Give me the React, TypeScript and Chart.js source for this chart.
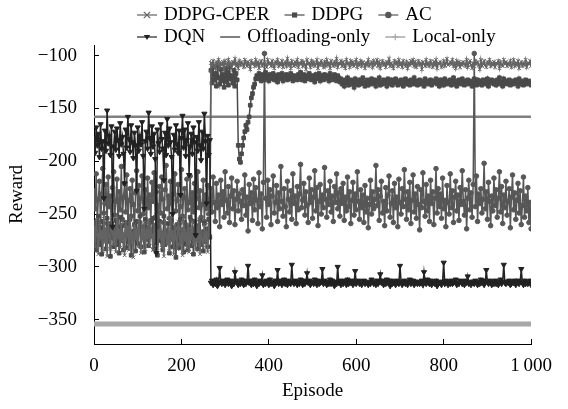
import React, { useEffect, useRef } from 'react';
import { Chart, registerables } from 'chart.js';

Chart.register(...registerables);

// ---------- data ----------
const EPISODE_STEP = 2.5; // one sample every 2.5 episodes, episodes 0..1000
const X_TICKS = [0, 200, 400, 600, 800, 1000];
const X_TICK_LABELS = ['0', '200', '400', '600', '800', '1\u2009000'];
const Y_TICKS = [-350, -300, -250, -200, -150, -100];

const DDPG_CPER = [
  -262, -281, -255, -270, -288, -259, -274, -266, -285, -252,
  -277, -263, -290, -258, -271, -283, -256, -268, -279, -261,
  -286, -254, -273, -265, -282, -259, -276, -268, -289, -257,
  -270, -262, -284, -253, -278, -267, -291, -260, -274, -264,
  -281, -256, -269, -287, -261, -275, -258, -283, -266, -272,
  -255, -280, -263, -270, -284, -259, -276, -251, -287, -265,
  -273, -258, -282, -267, -290, -256, -271, -279, -262, -285,
  -254, -276, -266, -288, -260, -272, -283, -257, -269, -280,
  -264, -289, -253, -275, -268, -282, -259, -286, -263, -274,
  -257, -279, -270, -284, -261, -277, -255, -288, -266, -273,
  -282, -260, -275, -268, -286, -258, -271,
  -107, -110, -105, -109, -112, -106, -108, -104, -111, -107,
  -109, -106, -113, -105, -108, -110, -104, -109, -107, -111,
  -106, -108, -103, -110, -107, -112, -105, -109, -106, -108,
  -111, -104, -107, -110, -106, -109, -113, -105, -108, -107,
  -110, -104, -109, -106, -112, -107, -105, -110, -108, -106,
  -109, -111, -104, -108, -107, -110, -105, -109, -112, -106,
  -108, -104, -110, -107, -109, -105, -111, -108, -106, -110,
  -103, -109, -107, -112, -105, -108, -110, -106, -109, -104,
  -111, -107, -108, -105, -110, -106, -109, -113, -104, -108,
  -107, -111, -105, -109, -106, -110, -108, -104, -112, -107,
  -109, -105, -108, -111, -106, -110, -104, -109, -107, -112,
  -105, -108, -110, -106, -109, -103, -111, -107, -108, -105,
  -110, -106, -109, -112, -104, -108, -107, -111, -105, -109,
  -106, -110, -108, -104, -111, -107, -109, -105, -110, -106,
  -108, -112, -107, -109, -104, -110, -108, -106, -111, -105,
  -109, -107, -104, -110, -106, -112, -108, -105, -109, -107,
  -111, -106, -108, -103, -110, -107, -109, -112, -105, -108,
  -106, -110, -104, -109, -107, -111, -105, -108, -110, -106,
  -112, -107, -109, -105, -108, -104, -110, -106, -111, -108,
  -105, -109, -107, -113, -106, -108, -110, -104, -109, -107,
  -110, -105, -108, -111, -106, -109, -104, -112, -107, -108,
  -106, -111, -109, -105, -110, -107, -103, -109, -108, -106,
  -108, -104, -110, -107, -112, -105, -109, -106, -111, -107,
  -109, -106, -108, -110, -104, -111, -107, -105, -109, -112,
  -107, -110, -105, -108, -106, -109, -113, -104, -110, -108,
  -105, -109, -111, -106, -108, -104, -110, -107, -109, -106,
  -111, -107, -108, -105, -112, -106, -109, -110, -104, -108,
  -106, -110, -107, -109, -105, -111, -108, -104, -110, -107,
  -109, -105, -112, -108, -106, -110, -107, -109, -104, -111,
  -107, -108, -105, -110,
];

const DDPG = [
  -271, -258, -284, -266, -252, -279, -263, -288, -257, -274,
  -268, -283, -254, -276, -262, -290, -259, -272, -281, -265,
  -256, -279, -268, -287, -253, -275, -261, -284, -270, -258,
  -282, -264, -276, -255, -289, -267, -273, -260, -285, -257,
  -278, -266, -252, -281, -269, -262, -286, -255, -274, -263,
  -280, -258, -271, -267, -254, -283, -261, -277, -289, -264,
  -257, -275, -268, -284, -252, -279, -266, -272, -259, -287,
  -270, -256, -281, -263, -276, -291, -260, -268, -282, -255,
  -273, -265, -286, -258, -278, -262, -284, -269, -253, -280,
  -266, -288, -257, -274, -261, -283, -270, -256, -279, -267,
  -285, -259, -276, -264, -281, -255, -272,
  -114, -126, -111, -123, -117, -129, -110, -121, -127, -113,
  -124, -118, -130, -112, -125, -116, -128, -111, -122, -119,
  -126, -114, -129, -117, -123,
  -185, -198, -201, -193, -185, -178, -172, -166, -170, -163,
  -158, -147, -140, -136, -130, -127, -122,
  -119, -122, -117, -121, -124, -118, -120, -123, -116, -121,
  -119, -124, -118, -122, -120, -117, -123, -119, -121, -125,
  -118, -120, -122, -117, -124, -119, -121, -118, -123, -120,
  -122, -117, -121, -124, -119, -122, -120, -123, -118, -121,
  -116, -123, -120, -118, -124, -121, -119, -122, -117, -120,
  -123, -119, -121, -125, -118, -122, -120, -117, -124, -119,
  -121, -123, -118, -120, -122, -119, -124, -117, -121, -123,
  -120, -118, -122, -124, -119, -121,
  -125, -122, -127, -124, -129, -123, -126, -121, -128, -125,
  -123, -127, -124, -130, -122, -126, -125, -128, -123, -127,
  -124, -121, -126, -129, -125, -123, -128, -124, -126, -122,
  -127, -125, -123, -129, -124, -126, -121, -128, -125, -127,
  -123, -126, -124, -129, -122, -125, -127, -123, -128, -124,
  -126, -122, -125, -128, -124, -127, -123, -126, -129, -125,
  -122, -127, -124, -126, -128, -123, -125, -127, -121, -126,
  -124, -128, -125, -123, -127, -124, -126, -129, -122, -125,
  -127, -124, -126, -123, -128, -125, -124, -126, -122, -127,
  -125, -129, -123, -126, -124, -128, -122, -125, -127, -124,
  -126, -123, -128, -125, -121, -127, -124, -129, -126, -123,
  -125, -127, -122, -126, -128, -124, -125, -123, -127, -126,
  -124, -129, -125, -122, -126, -128, -123, -127, -125, -124,
  -128, -123, -126, -124, -127, -122, -129, -125, -126, -123,
  -125, -127, -124, -128, -123, -126, -121, -127, -125, -129,
  -122, -126, -124, -127, -125, -123, -128, -126, -124, -127,
  -126, -123, -125, -129, -122, -127, -124, -126, -128, -125,
  -123, -127, -125, -124, -126, -128,
];

const AC = [
  -228, -245, -212, -257, -236, -219, -264, -231, -207, -249,
  -240, -222, -259, -215, -243, -233, -268, -225, -210, -251,
  -238, -217, -262, -229, -246, -205, -255, -234, -221, -248,
  -213, -260, -237, -226, -252, -218, -241, -266, -230, -209,
  -247, -223, -258, -235, -214, -250, -239, -227, -263, -216,
  -244, -232, -256, -220, -238, -211, -253, -229, -242, -261,
  -224, -249, -215, -236, -258, -227, -204, -245, -233, -254,
  -219, -240, -265, -231, -212, -247, -237, -222, -259, -243,
  -208, -252, -234, -226, -261, -217, -246, -239, -214, -256,
  -230, -248, -221, -263, -235, -210, -244, -228, -253, -241,
  -218, -257, -232, -245, -223, -250, -236,
  -226, -248, -215, -239, -257, -221, -244, -232, -262, -218,
  -241, -229, -253, -210, -237, -249, -224, -258, -233, -216,
  -245, -228, -260, -236, -219, -247, -231, -238, -255, -227,
  -242, -213, -251, -234, -266, -222, -240, -230, -256, -217,
  -246, -225, -237, -259, -211, -243, -231, -264, -220, -98,
  -235, -253, -218, -241, -227, -260, -233, -214, -249, -239,
  -223, -257, -230, -245, -205, -238, -252, -226, -243, -262,
  -219, -236, -248, -228, -255, -212, -240, -233, -259, -224,
  -246, -231, -203, -244, -237, -221, -251, -229, -242, -258,
  -216, -239, -227, -254, -234, -209, -247, -225, -261, -238,
  -222, -250, -232, -244, -206, -236, -253, -228, -241, -219,
  -248, -233, -257, -224, -239, -212, -245, -230, -252, -226,
  -240, -221, -256, -234, -247, -215, -243, -229, -259, -237,
  -220, -251, -231, -246, -210, -238, -255, -227, -244, -232,
  -258, -223, -248, -235, -263, -241, -218, -250, -229, -245,
  -236, -204, -242, -227, -256, -233, -219, -249, -238, -261,
  -225, -247, -232, -214, -253, -240, -228, -258, -221, -244,
  -234, -262, -217, -239, -250, -226, -243, -208, -236, -255,
  -229, -246, -220, -259, -237, -213, -248, -231, -254, -224,
  -241, -265, -227, -244, -211, -238, -252, -222, -247, -233,
  -257, -218, -240, -229, -260, -235, -207, -249, -226, -243,
  -231, -254, -216, -245, -237, -262, -223, -239, -250, -212,
  -244, -228, -258, -234, -219, -247, -232, -256, -225, -241,
  -209, -238, -251, -227, -264, -235, -218, -246, -230, -253,
  -222, -98, -243, -214, -257, -231, -240, -226, -249, -236,
  -202, -245, -229, -255, -220, -238, -261, -233, -247, -216,
  -242, -227, -253, -235, -210, -248, -224, -259, -232, -244,
  -219, -251, -238, -226, -263, -234, -213, -246, -230, -255,
  -237, -221, -249, -228, -260, -242, -215, -253, -233, -247,
  -225, -258, -239, -264,
];

const DQN = [
  -178, -192, -168, -185, -174, -196, -165, -188, -181, -235,
  -171, -190, -152, -183, -176, -194, -167, -262, -186, -172,
  -189, -169, -180, -195, -164, -184, -177, -193, -221, -170,
  -187, -158, -179, -191, -166, -182, -197, -173, -185, -228,
  -168, -190, -176, -184, -163, -195, -245, -181, -172, -188,
  -154, -178, -193, -167, -186, -174, -198, -287, -170, -183,
  -191, -165, -179, -188, -218, -173, -194, -160, -185, -169,
  -182, -196, -250, -175, -189, -166, -184, -192, -171, -232,
  -178, -157, -187, -170, -195, -180, -164, -213, -186, -174,
  -193, -168, -182, -270, -177, -190, -163, -185, -199, -172,
  -188, -155, -181, -240, -176, -194, -180,
  -315, -313, -317, -314, -316, -312, -318, -315, -301, -314,
  -316, -313, -315, -317, -314, -312, -316, -315, -313, -318,
  -314, -316, -305, -313, -315, -317, -314, -316, -312, -315,
  -317, -313, -316, -314, -299, -315, -313, -317, -314, -316,
  -312, -315, -318, -314, -316, -313, -315, -308, -317, -314,
  -316, -313, -315, -317, -312, -316, -314, -315, -318, -313,
  -315, -303, -316, -314, -313, -317, -315, -312, -316, -314,
  -317, -313, -315, -316, -298, -314, -316, -313, -315, -317,
  -314, -316, -312, -315, -317, -313, -316, -314, -306, -315,
  -313, -317, -315, -314, -316, -312, -315, -317, -313, -316,
  -315, -314, -302, -316, -313, -315, -317, -314, -316, -312,
  -316, -313, -315, -318, -314, -316, -300, -315, -313, -317,
  -314, -316, -313, -315, -317, -312, -316, -314, -315, -313,
  -317, -315, -304, -316, -314, -313, -316, -315, -317, -314,
  -313, -316, -315, -314, -317, -315, -316, -312, -314, -316,
  -315, -317, -313, -316, -314, -307, -315, -313, -317, -314,
  -316, -312, -315, -314, -318, -313, -316, -315, -314, -317,
  -313, -315, -316, -299, -314, -317, -315, -313, -316, -314,
  -317, -314, -312, -316, -315, -313, -317, -314, -315, -316,
  -314, -316, -315, -313, -317, -305, -314, -316, -312, -315,
  -316, -313, -317, -314, -315, -316, -313, -318, -314, -315,
  -315, -317, -314, -296, -316, -313, -315, -317, -314, -316,
  -313, -316, -315, -314, -312, -317, -315, -316, -313, -314,
  -316, -314, -317, -313, -315, -309, -316, -314, -317, -315,
  -314, -316, -313, -315, -317, -314, -316, -312, -315, -313,
  -317, -315, -303, -314, -316, -313, -315, -317, -314, -316,
  -313, -316, -314, -317, -315, -312, -316, -314, -298, -315,
  -316, -314, -315, -313, -317, -316, -314, -315, -313, -317,
  -315, -313, -316, -314, -302, -315, -317, -313, -316, -314,
  -316, -315, -313, -317,
];

const OFFLOADING_ONLY = -158;
const LOCAL_ONLY = -354;
const FLAT_LINE_EPISODES = [0, 1000];

// ---------- style ----------
const FONT = '"Liberation Serif", "Times New Roman", Times, serif';
const FONT_SIZE = 19;

const toPoints = (vals: number[]) => vals.map((y, i) => ({ x: i * EPISODE_STEP, y }));
const flat = (v: number) => FLAT_LINE_EPISODES.map((x) => ({ x, y: v }));

function drawMarker(ctx: CanvasRenderingContext2D, style: string, x: number, y: number, r: number, color: string) {
  ctx.save();
  ctx.fillStyle = color;
  ctx.strokeStyle = color;
  ctx.lineWidth = 1.2;
  ctx.beginPath();
  if (style === 'circle') {
    ctx.arc(x, y, r, 0, Math.PI * 2);
    ctx.fill();
  } else if (style === 'rect') {
    ctx.rect(x - r * 0.8, y - r * 0.8, r * 1.6, r * 1.6);
    ctx.fill();
  } else if (style === 'triangleDown') {
    ctx.moveTo(x - r, y - r * 0.6);
    ctx.lineTo(x + r, y - r * 0.6);
    ctx.lineTo(x, y + r * 0.9);
    ctx.closePath();
    ctx.fill();
  } else if (style === 'crossRot') {
    ctx.moveTo(x - r, y - r);
    ctx.lineTo(x + r, y + r);
    ctx.moveTo(x - r, y + r);
    ctx.lineTo(x + r, y - r);
    ctx.stroke();
  } else if (style === 'cross') {
    ctx.moveTo(x - r, y);
    ctx.lineTo(x + r, y);
    ctx.moveTo(x, y - r);
    ctx.lineTo(x, y + r);
    ctx.stroke();
  }
  ctx.restore();
}

const LEGEND_MARKERS = ['crossRot', 'rect', 'circle', 'triangleDown', 'none', 'cross'];
const LEGEND_ROWS = [[0, 1, 2], [3, 4, 5]];

const legendPlugin = {
  id: 'paperLegend',
  afterDraw(chart: any) {
    const ctx: CanvasRenderingContext2D = chart.ctx;
    ctx.save();
    ctx.font = `${FONT_SIZE}px ${FONT}`;
    ctx.textBaseline = 'middle';
    ctx.textAlign = 'left';
    const rowY = [15, 37];
    LEGEND_ROWS.forEach((row, ri) => {
      let x = 137;
      const y = rowY[ri];
      row.forEach((di) => {
        const ds = chart.data.datasets[di];
        const color = ds.borderColor as string;
        ctx.save();
        ctx.strokeStyle = color;
        ctx.lineWidth = di === 4 ? 2 : di === 5 ? 1.5 : 1.2;
        ctx.beginPath();
        ctx.moveTo(x, y);
        ctx.lineTo(x + 20, y);
        ctx.stroke();
        ctx.restore();
        drawMarker(ctx, LEGEND_MARKERS[di], x + 10, y, 3.2, color);
        ctx.fillStyle = '#000';
        ctx.fillText(ds.label, x + 27, y);
        x += 27 + ctx.measureText(ds.label).width + 15;
      });
    });
    ctx.restore();
  },
};

export default function App() {
  const ref = useRef<HTMLCanvasElement | null>(null);

  useEffect(() => {
    if (!ref.current) return;
    const font = { family: FONT, size: FONT_SIZE };
    const series = (label: string, data: number[], color: string, pointStyle: string, radius: number, rotation: number, order: number) => ({
      label,
      data: toPoints(data),
      borderColor: color,
      backgroundColor: color,
      borderWidth: 1.5,
      pointStyle,
      pointRadius: radius,
      pointRotation: rotation,
      pointBorderWidth: 1,
      pointBackgroundColor: color,
      pointBorderColor: color,
      order,
    });

    const chart = new Chart(ref.current, {
      type: 'line',
      data: {
        datasets: [
          series('DDPG-CPER', DDPG_CPER, '#636363', 'crossRot', 2.6, 0, 1),
          series('DDPG', DDPG, '#4a4a4a', 'rect', 2.6, 0, 2),
          series('AC', AC, '#575757', 'circle', 2.3, 0, 3),
          series('DQN', DQN, '#222222', 'triangle', 3, 180, 0),
          {
            label: 'Offloading-only',
            data: flat(OFFLOADING_ONLY),
            borderColor: '#808080',
            backgroundColor: '#808080',
            borderWidth: 2.5,
            pointRadius: 0,
            order: 4,
          },
          {
            label: 'Local-only',
            data: flat(LOCAL_ONLY),
            borderColor: '#a8a8a8',
            backgroundColor: '#a8a8a8',
            borderWidth: 5,
            pointRadius: 0,
            order: 5,
          },
        ] as any,
      },
      options: {
        animation: false,
        responsive: false,
        events: [],
        layout: { padding: { top: 45, right: 21, left: 0, bottom: 0 } },
        elements: { line: { tension: 0 } },
        plugins: {
          legend: { display: false },
          tooltip: { enabled: false },
        },
        scales: {
          x: {
            type: 'linear',
            min: 0,
            max: 1000,
            afterFit: (s: any) => {
              s.height = 65;
            },
            afterBuildTicks: (s: any) => {
              s.ticks = X_TICKS.map((v) => ({ value: v }));
            },
            ticks: {
              autoSkip: false,
              maxRotation: 0,
              color: '#000',
              font,
              padding: 16,
              callback: (v: any) => {
                const i = X_TICKS.indexOf(Number(v));
                return i >= 0 ? X_TICK_LABELS[i] : '';
              },
            },
            grid: { drawOnChartArea: false, tickLength: -5, color: '#000', tickColor: '#000' },
            border: { display: true, color: '#000', width: 1 },
            title: { display: true, text: 'Episode', color: '#000', font, padding: { top: 0, bottom: 7 } },
          },
          y: {
            type: 'linear',
            min: -373,
            max: -90,
            afterFit: (s: any) => {
              s.width = 94;
            },
            afterBuildTicks: (s: any) => {
              s.ticks = Y_TICKS.map((v) => ({ value: v }));
            },
            ticks: {
              color: '#000',
              font,
              padding: 22,
              callback: (v: any) => {
                const n = Number(v);
                return (n < 0 ? '\u2212' : '') + Math.abs(n);
              },
            },
            grid: { drawOnChartArea: false, tickLength: -5, color: '#000', tickColor: '#000' },
            border: { display: true, color: '#000', width: 1 },
            title: { display: true, text: 'Reward', color: '#000', font, padding: { top: 6, bottom: 0 } },
          },
        },
      } as any,
      plugins: [legendPlugin],
    });

    return () => chart.destroy();
  }, []);

  return (
    <div style={{ position: 'absolute', left: 0, top: 0, width: 568, height: 409, background: '#fff' }}>
      <canvas ref={ref} width={568} height={409} style={{ display: 'block' }} />
    </div>
  );
}
